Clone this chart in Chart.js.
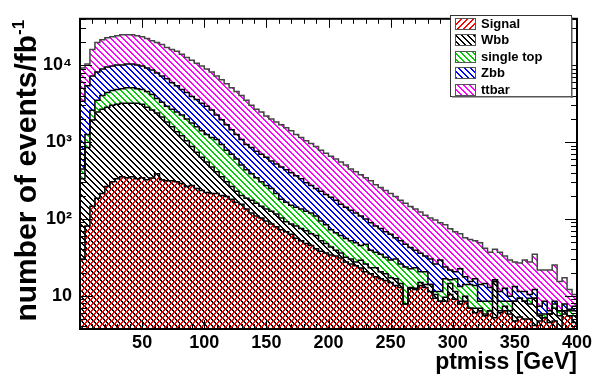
<!DOCTYPE html>
<html><head><meta charset="utf-8">
<script src="https://cdn.jsdelivr.net/npm/chart.js@4.4.0/dist/chart.umd.min.js"></script>
<style>html,body{margin:0;padding:0;background:#fff}#wrap{width:598px;height:381px;position:relative}</style>
</head><body><div id="wrap"><canvas id="c" width="598" height="381"></canvas></div>
<script>
// ---- data (events / fb^-1 per 4 GeV bin, 0..400 GeV) ----
const binWidth = 4;
const xMin = 0, xMax = 400;
const seriesNames = ['Signal', 'Wbb', 'single top', 'Zbb', 'ttbar'];
const signal = [30,81,146,185,214,263,305,333,353,343,353,333,343,324,340,385,324,314,314,305,288,263,271,248,234,221,214,214,202,196,180,165,155,134,119,109,103,94,86,79,72,68,63,56,52,48,45,41,38,36,34,33,31,27.5,26,24.5,23,20.5,19.3,17.7,16.7,15.8,14.9,13.6,12.8,7.8,12.5,12.1,13.6,12.8,11.4,9.3,8.5,8.5,10.4,9.0,7.8,8.5,6.9,6.0,6.4,5.5,6.4,5.2,6.0,6.4,5.8,4.7,5.3,5.0,5.0,4.1,4.7,5.2,4.5,4.7,3.5,5.8,5.5,4.5];
const wbb = [303,770,1790,2265,2456,2567,2695,2757,2837,2847,2837,2857,2747,2506,2260,1995,1786,1506,1266,1055,922,777,606,487,401,327,259,195,151,109,83,63,47,51,56,51,43,40,40,37,31,24,23,25,23,22,19,20,14,12,9,6,5,4.3,4,3,6,5.4,3.8,5.4,3.8,3.5,2.3,3.1,1.6,0,0.3,0.4,1.3,1.2,2.6,1.1,0,1.1,4.0,2.4,0.7,1.4,0,0.9,0.5,0.3,0,10.1,0.4,0.9,0.6,3.8,4.0,3.5,2.8,5.2,0.8,0,1.3,2.2,2.0,0.6,0,1.0];
const singleTop = [114,400,660,1030,1360,1570,1670,1710,1750,1900,1900,1750,1710,1700,1550,1310,1170,1100,1090,1090,1030,950,893,845,765,702,667,671,576,475,430,371,300,249,210,183,159,137,122,98,77,73,65,61,59,56,55,48,42,36,29,27,25,24,22,21.5,16,21,16,13.8,14.3,12.5,12,13.3,11.5,15.9,9.6,10.6,5.6,6.5,0,1.0,2.9,7.1,1.8,5.3,4.7,4.1,7.1,6.7,1.6,2.7,2.1,0,2.1,1.2,2.1,0,0,0,1.5,0,0.3,0.6,0,0.9,0.9,0,0.9,0.9];
const zbb = [2933,4150,4640,4670,4860,5030,5040,5200,5060,5210,5210,5060,4910,4630,4490,4220,3960,3720,3230,2950,2560,2410,2140,2000,1790,1670,1460,1160,1011,890,747,651,578,495,466,414,388,364,317,303,293,269,246,222,199,170,152,139,134,124,119,109,94,86,78,70,64,53,50,44,40,36,34,27,26,23,20,16,15.3,12.3,16,14.5,17.8,7,5.5,3.8,9.2,3.7,1.3,3.1,5.5,5.9,4.3,0.9,2.9,4.0,1.4,4.7,2.1,2.9,1.1,2.8,1.5,2.7,0.6,0.7,0,1.4,0.3,0.9];
const ttbar = [5780,4900,8760,11450,12510,13270,13690,14100,14800,14500,14500,14100,13690,12940,12160,11690,11260,10260,10100,9700,9000,8200,7690,7020,6520,5970,5550,5000,4500,4060,3650,3280,2950,2551,2149,1913,1757,1545,1425,1303,1197,1096,1003,886,807,744,686,629,552,506,463,424,393,360,317,290,265,243,225,198,181,166,151,139,123,113,103,95,87,79,73,71,60,60,53,47.5,41.6,39.3,38.7,35.3,35,27.1,24.1,24.1,25.5,20.3,19.3,14.3,15.3,17.8,17.1,22.7,14.4,13.2,15.3,16.7,8.9,9.4,5.4,3.1];
const xTickValues = [50,100,150,200,250,300,350,400];
const yTickValues = [10,100,1000,10000];
const yTickLabels = ['10','10\u00B2','10\u00B3','10\u2074'];
const yMin = 3.7, yMax = 40000;

const seriesValues = [signal, wbb, singleTop, zbb, ttbar];
const seriesColors = ['#ff0000', '#000000', '#00d000', '#0000ff', '#ff00ff'];
const hatchDir = ['/', '\\', '\\', '\\', '\\'];
const hatchThick = [2, 2, 2, 2, 2];
const outlineColors = ['#000', '#000', '#000', '#000', '#444'];

const FONT = '"Liberation Sans", Arial, Helvetica, sans-serif';
const canvas = document.getElementById('c');
const mainCtx = canvas.getContext('2d');

function makeHatch(color, dir, thick) {
  const c = document.createElement('canvas');
  c.width = 6; c.height = 6;
  const g = c.getContext('2d');
  g.fillStyle = color;
  for (let i = 0; i < 6; i++) {
    for (let t = 0; t < thick; t++) {
      const x = dir === '\\' ? (i + t) % 6 : (5 - i + t + 6) % 6;
      g.fillRect(x, i, 1, 1);
    }
  }
  return mainCtx.createPattern(c, 'repeat');
}
const patterns = seriesColors.map((c, k) => makeHatch(c, hatchDir[k], hatchThick[k]));

// cumulative stacks (THStack style: each drawn from the axis)
const cumulative = seriesValues.map((_, k) =>
  signal.map((__, i) => { let s = 0; for (let j = 0; j <= k; j++) s += seriesValues[j][i]; return s; }));

const datasets = seriesNames.map((name, k) => {
  const pts = cumulative[k].map((v, i) => ({ x: xMin + i * binWidth, y: v }));
  pts.push({ x: xMax, y: cumulative[k][cumulative[k].length - 1] });
  return {
    label: name, data: pts, stepped: 'before', fill: 'start',
    backgroundColor: patterns[k], borderColor: outlineColors[k], borderWidth: 1.5,
    pointRadius: 0, tension: 0
  };
});

const rootDecor = {
  id: 'rootDecor',
  afterDraw(chart) {
    const ctx = chart.ctx, a = chart.chartArea, xs = chart.scales.x, ys = chart.scales.y;
    ctx.save();
    ctx.strokeStyle = '#000';
    ctx.lineWidth = 1;
    ctx.beginPath();
    for (let v = 10; v < xMax; v += 10) {
      const px = Math.round(xs.getPixelForValue(v)) + 0.5;
      const len = v % 50 === 0 ? 9 : 5;
      ctx.moveTo(px, a.bottom); ctx.lineTo(px, a.bottom - len);
      ctx.moveTo(px, a.top); ctx.lineTo(px, a.top + len);
    }
    for (let e = 0; e <= 4; e++) {
      for (let m = 1; m <= 9; m++) {
        const v = m * Math.pow(10, e);
        if (v < yMin || v > yMax) continue;
        const py = Math.round(ys.getPixelForValue(v)) + 0.5;
        const len = m === 1 ? 12 : 6;
        ctx.moveTo(a.left, py); ctx.lineTo(a.left + len, py);
        ctx.moveTo(a.right, py); ctx.lineTo(a.right - len, py);
      }
    }
    ctx.stroke();
    ctx.lineWidth = 2;
    ctx.strokeRect(a.left, a.top, a.right - a.left, a.bottom - a.top);
    // axis titles
    ctx.fillStyle = '#000';
    ctx.font = 'bold 23px ' + FONT;
    ctx.textAlign = 'right'; ctx.textBaseline = 'alphabetic';
    ctx.fillText('ptmiss [GeV]', a.right, 369);
    ctx.save();
    ctx.translate(36, a.top + 1);
    ctx.rotate(-Math.PI / 2);
    ctx.font = 'bold 17px ' + FONT;
    ctx.textAlign = 'right';
    ctx.fillText('-1', 0, -12);
    const supW = ctx.measureText('-1').width;
    ctx.font = 'bold 30px ' + FONT;
    ctx.fillText('number of events/fb', -supW, 0);
    ctx.restore();
    // legend
    const lx = 450, ly = 15, lw = 121, lh = 81;
    ctx.fillStyle = '#fff';
    ctx.fillRect(lx, ly, lw, lh);
    ctx.lineWidth = 1;
    ctx.strokeStyle = '#333';
    ctx.strokeRect(lx + 0.5, ly + 0.5, lw, lh);
    ctx.fillStyle = '#555';
    ctx.fillRect(lx + lw, ly + 2, 1.5, lh);
    ctx.fillRect(lx + 2, ly + lh, lw, 1.5);
    ctx.font = 'bold 13px ' + FONT;
    ctx.textAlign = 'left'; ctx.textBaseline = 'middle';
    seriesNames.forEach((name, k) => {
      const cy = 23 + k * 16.5;
      ctx.fillStyle = patterns[k];
      ctx.fillRect(455, Math.round(cy - 5.5), 20, 11);
      ctx.strokeStyle = '#555';
      ctx.strokeRect(455.5, Math.round(cy - 5.5) + 0.5, 20, 11);
      ctx.fillStyle = '#000';
      ctx.fillText(name, 481, cy + 1);
    });
    ctx.restore();
  }
};

new Chart(canvas, {
  type: 'line',
  data: { datasets },
  options: {
    responsive: false, animation: false, events: [],
    layout: { padding: { top: 12, right: 21, left: 0, bottom: 0 } },
    plugins: { legend: { display: false }, tooltip: { enabled: false } },
    scales: {
      x: {
        type: 'linear', min: xMin, max: xMax,
        grid: { display: false, drawTicks: false }, border: { display: false },
        afterBuildTicks: s => { s.ticks = xTickValues.map(v => ({ value: v })); },
        afterFit: s => { s.height = 52; },
        ticks: { color: '#000', font: { family: FONT, size: 18, weight: 'bold' }, padding: 3, maxRotation: 0, autoSkip: false }
      },
      y: {
        type: 'logarithmic', min: yMin, max: yMax,
        grid: { display: false, drawTicks: false }, border: { display: false },
        afterBuildTicks: s => { s.ticks = yTickValues.map(v => ({ value: v })); },
        afterFit: s => { s.width = 80; },
        ticks: {
          color: '#000', font: { family: FONT, size: 18, weight: 'bold' }, padding: 8, autoSkip: false,
          callback: (v) => { const i = yTickValues.indexOf(v); return i >= 0 ? yTickLabels[i] : ''; }
        }
      }
    }
  },
  plugins: [rootDecor]
});
</script>
</body></html>
